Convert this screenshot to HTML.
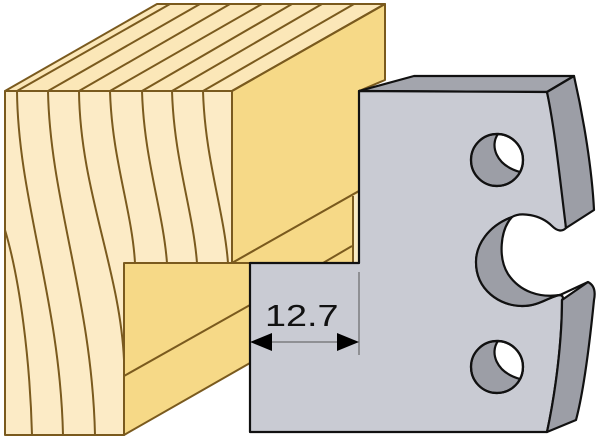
<!DOCTYPE html>
<html><head><style>html,body{margin:0;padding:0;background:#fff}svg{display:block}</style></head>
<body>
<svg width="600" height="439" viewBox="0 0 600 439" xmlns="http://www.w3.org/2000/svg">
<g stroke="#7a5a1e" stroke-width="2" stroke-linejoin="round">
  <polygon points="5,91 157,4 385,4 232,91" fill="#fbe7b8"/>
  <polygon points="232,91 385,4 385,80 359,91 359,191 232,263" fill="#f6d987"/>
  <polygon points="232,263 359,191 359,263" fill="#f6d987"/>
  <polygon points="353,196 359,193 359,263 353,263" fill="#faecc4" stroke="none"/>
  <line x1="353" y1="196" x2="353" y2="263"/>
  <line x1="323" y1="263" x2="352" y2="246"/>
  <polygon points="124,263 250,263 250,363 124,435" fill="#f6d987"/>
  <line x1="124" y1="376" x2="250" y2="305"/>
  <polygon points="5,91 232,91 232,263 124,263 124,435 5,435" fill="#fcebc6"/>
  <g fill="none">
    <line x1="17" y1="91" x2="170" y2="4"/>
    <line x1="48" y1="91" x2="200" y2="4"/>
    <line x1="79" y1="91" x2="230" y2="4"/>
    <line x1="110" y1="91" x2="262" y2="4"/>
    <line x1="142" y1="91" x2="292" y2="4"/>
    <line x1="172" y1="91" x2="322" y2="4"/>
    <line x1="203" y1="91" x2="354" y2="4"/>
    <line x1="232" y1="91" x2="385" y2="4"/>
    <path d="M5,230 C20,280 30,360 32,435"/>
    <path d="M17,91 C18,200 60,300 63,435"/>
    <path d="M48,91 C50,200 92,300 95,435"/>
    <path d="M79,91 C80,190 120,270 124,360"/>
    <path d="M110,91 C112,160 132,210 135,263"/>
    <path d="M142,91 C144,160 163,210 167,263"/>
    <path d="M172,91 C174,160 193,210 197,263"/>
    <path d="M203,91 C205,160 224,210 228,263"/>
  </g>
</g>
<g stroke="#111" stroke-width="2.2" stroke-linejoin="round">
  <polygon points="359,91 414,76 574,76 547,92" fill="#a3a5ad"/>
  <path d="M250,432 L250,263 L359,263 L359,91 L547,92 C556,130 562,180 566,228 C562,232 557,231 552,226 C540,214 520,212 512,217 C488,226 476,245 476,262 C476,290 500,306 522,306 C540,306 550,296 560,295 C564,296 563,299 562,300 C562,340 556,390 547,432 Z" fill="#c9cbd3"/>
  <path d="M512,217 C488,226 476,245 476,262 C476,290 500,306 522,306 C540,306 550,296 560,295 C540,298 520,292 508,274 C498,258 500,230 512,217 Z" fill="#9c9ea6"/>
  <path d="M547,92 L574,76 C584,120 592,170 594,210 L566,228 C560,180 555,130 547,92 Z" fill="#9c9ea6"/>
  <path d="M562,300 L588,282 C596,286 595,295 594,300 C590,340 584,390 576,420 L547,432 C556,390 562,340 562,300 Z" fill="#9c9ea6"/>
  <line x1="560" y1="295" x2="588" y2="282"/>
  <circle cx="497" cy="160" r="26" fill="#9c9ea6"/>
  <path d="M498,134 C490,145 495,165 520,172 A26,26 0 0 0 498,134 Z" fill="#fff"/>
  <circle cx="497" cy="367" r="26" fill="#9c9ea6"/>
  <path d="M498,341 C490,352 495,372 520,379 A26,26 0 0 0 498,341 Z" fill="#fff"/>
  <circle cx="497" cy="160" r="26" fill="none"/>
  <circle cx="497" cy="367" r="26" fill="none"/>
</g>
<line x1="359" y1="272" x2="359" y2="355" stroke="#555" stroke-width="1"/>
<line x1="262" y1="342" x2="348" y2="342" stroke="#555" stroke-width="1"/>
<polygon points="250,342 272,333 272,351" fill="#000"/>
<polygon points="359,342 337,333 337,351" fill="#000"/>
<text transform="translate(265,326) scale(1.22,1)" x="0" y="0" font-family="Liberation Sans, sans-serif" font-size="31" fill="#111">12.7</text>
</svg>
</body></html>
